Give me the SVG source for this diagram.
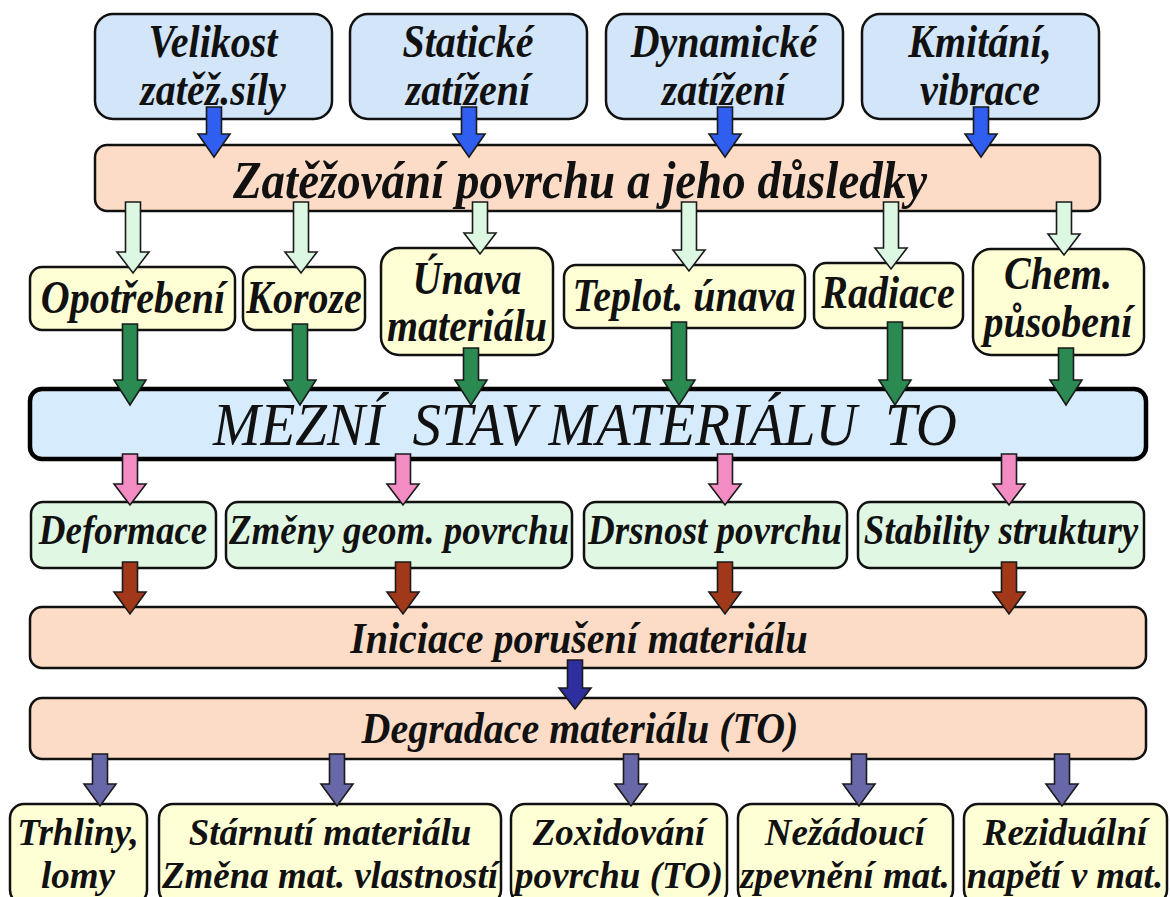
<svg xmlns="http://www.w3.org/2000/svg" width="1170" height="897" viewBox="0 0 1170 897">
  <style>
    .box { stroke: #111; stroke-width: 2.5; }
    .blue { fill: #d2e5f9; }
    .peach { fill: #fcdcc6; }
    .yellow { fill: #ffffd6; }
    .mint { fill: #e0f7e4; }
    .state { fill: #d6ecfc; stroke: #000; stroke-width: 4.5; }
    text { font-family: "Liberation Serif", "Times New Roman", serif; font-style: italic; font-weight: bold; text-anchor: middle; fill: #111; }
    .f40 { font-size: 40px; }
    .f37 { font-size: 37px; }
    .f47 { font-size: 47px; }
    .big { font-size: 57px; font-weight: normal; }
    .arr { stroke: #1a1a1a; stroke-width: 1.6; stroke-linejoin: miter; }
    .a-blue { fill: #2f5ef0; }
    .a-pale { fill: #dcf8e2; }
    .a-green { fill: #2b8a52; }
    .a-pink { fill: #f28cc2; }
    .a-brown { fill: #a2381a; }
    .a-navy { fill: #2e2e9e; }
    .a-slate { fill: #6868a8; }
  </style>

  <rect width="1170" height="897" fill="#ffffff"/>

  <!-- most labels are set in a slightly tall face: each line is stretched vertically about its baseline -->

  <!-- load sources -->
  <g id="velikost">
    <rect class="box blue" x="95" y="14" width="237" height="105" rx="18"/>
    <text class="f40" transform="translate(213,57) scale(1,1.15)">Velikost</text>
    <text class="f40" transform="translate(213,105) scale(1,1.15)">zatěž.síly</text>
  </g>
  <g id="staticke">
    <rect class="box blue" x="350" y="14" width="237" height="105" rx="18"/>
    <text class="f40" transform="translate(468,57) scale(1,1.15)">Statické</text>
    <text class="f40" transform="translate(468,105) scale(1,1.15)">zatížení</text>
  </g>
  <g id="dynamicke">
    <rect class="box blue" x="606" y="14" width="237" height="105" rx="18"/>
    <text class="f40" transform="translate(724,57) scale(1,1.15)">Dynamické</text>
    <text class="f40" transform="translate(724,105) scale(1,1.15)">zatížení</text>
  </g>
  <g id="kmitani">
    <rect class="box blue" x="862" y="14" width="237" height="105" rx="18"/>
    <text class="f40" transform="translate(980,57) scale(1,1.15)">Kmitání,</text>
    <text class="f40" transform="translate(980,105) scale(1,1.15)">vibrace</text>
  </g>

  <g id="zatezovani">
    <rect class="box peach" x="95" y="145" width="1005" height="66" rx="12"/>
    <text class="f47" transform="translate(580,198) scale(1,1.12)">Zatěžování povrchu a jeho důsledky</text>
  </g>

  <!-- damage mechanisms -->
  <g id="opotrebeni">
    <rect class="box yellow" x="30" y="267" width="205" height="63" rx="12"/>
    <text class="f40" transform="translate(133,313) scale(1,1.15)">Opotřebení</text>
  </g>
  <g id="koroze">
    <rect class="box yellow" x="243" y="267" width="122" height="63" rx="12"/>
    <text class="f40" transform="translate(304,313) scale(1,1.15)">Koroze</text>
  </g>
  <g id="unava">
    <rect class="box yellow" x="381" y="248" width="172" height="107" rx="18"/>
    <text class="f40" transform="translate(467,294) scale(1,1.15)">Únava</text>
    <text class="f40" transform="translate(467,341) scale(1,1.15)">materiálu</text>
  </g>
  <g id="teplot">
    <rect class="box yellow" x="564" y="265" width="241" height="63" rx="12"/>
    <text class="f40" transform="translate(684,311) scale(1,1.15)">Teplot. únava</text>
  </g>
  <g id="radiace">
    <rect class="box yellow" x="814" y="263" width="149" height="65" rx="12"/>
    <text class="f40" transform="translate(888,308) scale(1,1.15)">Radiace</text>
  </g>
  <g id="chem">
    <rect class="box yellow" x="973" y="249" width="171" height="106" rx="18"/>
    <text class="f40" transform="translate(1058,289) scale(1,1.15)">Chem.</text>
    <text class="f40" transform="translate(1058,337) scale(1,1.15)">působení</text>
  </g>

  <g id="mezni-stav">
    <rect class="state" x="30" y="389" width="1116" height="70" rx="12"/>
    <text class="big" transform="translate(585,445) scale(1,1.08)" xml:space="preserve">MEZNÍ  STAV MATERIÁLU  TO</text>
  </g>

  <!-- surface effects -->
  <g id="deformace">
    <rect class="box mint" x="31" y="502" width="185" height="66" rx="12"/>
    <text class="f37" transform="translate(123,544) scale(1,1.15)">Deformace</text>
  </g>
  <g id="zmeny">
    <rect class="box mint" x="226" y="502" width="346" height="66" rx="12"/>
    <text class="f37" transform="translate(399,544) scale(1,1.15)">Změny geom. povrchu</text>
  </g>
  <g id="drsnost">
    <rect class="box mint" x="584" y="502" width="263" height="66" rx="12"/>
    <text class="f37" transform="translate(715,544) scale(1,1.15)">Drsnost povrchu</text>
  </g>
  <g id="stability">
    <rect class="box mint" x="858" y="502" width="286" height="66" rx="12"/>
    <text class="f37" transform="translate(1001,544) scale(1,1.15)">Stability struktury</text>
  </g>

  <g id="iniciace">
    <rect class="box peach" x="30" y="607" width="1116" height="61" rx="12"/>
    <text class="f40" transform="translate(579,653) scale(1,1.12)">Iniciace porušení materiálu</text>
  </g>
  <g id="degradace">
    <rect class="box peach" x="30" y="698" width="1116" height="61" rx="12"/>
    <text class="f40" transform="translate(580,743) scale(1,1.12)">Degradace materiálu (TO)</text>
  </g>

  <!-- consequences (two tight lines, set without stretch) -->
  <g id="trhliny">
    <rect class="box yellow" x="10" y="804" width="137" height="100" rx="14"/>
    <text class="f37" x="78" y="845">Trhliny,</text>
    <text class="f37" x="78" y="888">lomy</text>
  </g>
  <g id="starnuti">
    <rect class="box yellow" x="159" y="804" width="342" height="100" rx="14"/>
    <text class="f37" x="330" y="845">Stárnutí materiálu</text>
    <text class="f37" x="330" y="888">Změna mat. vlastností</text>
  </g>
  <g id="zoxidovani">
    <rect class="box yellow" x="511" y="804" width="216" height="100" rx="14"/>
    <text class="f37" x="619" y="845">Zoxidování</text>
    <text class="f37" x="619" y="888">povrchu (TO)</text>
  </g>
  <g id="nezadouci">
    <rect class="box yellow" x="738" y="804" width="215" height="100" rx="14"/>
    <text class="f37" x="845" y="845">Nežádoucí</text>
    <text class="f37" x="845" y="888">zpevnění mat.</text>
  </g>
  <g id="rezidualni">
    <rect class="box yellow" x="964" y="804" width="203" height="100" rx="14"/>
    <text class="f37" x="1065" y="845">Reziduální</text>
    <text class="f37" x="1065" y="888">napětí v mat.</text>
  </g>

  <!-- block arrows: shaft 15 wide, head 32 wide, about 22 long -->
  <g id="connectors" class="arr">
    <g class="a-blue">
      <path d="M206.5,107 H221.5 V134 H230 L214,157 L198,134 H206.5 Z"/>
      <path d="M461.5,107 H476.5 V134 H485 L469,157 L453,134 H461.5 Z"/>
      <path d="M717.5,107 H732.5 V134 H741 L725,157 L709,134 H717.5 Z"/>
      <path d="M973.5,107 H988.5 V134 H997 L981,157 L965,134 H973.5 Z"/>
    </g>
    <g class="a-pale">
      <path d="M125.5,202 H140.5 V252 H149 L133,273 L117,252 H125.5 Z"/>
      <path d="M293.5,202 H308.5 V252 H317 L301,273 L285,252 H293.5 Z"/>
      <path d="M472.5,202 H487.5 V233 H496 L480,254 L464,233 H472.5 Z"/>
      <path d="M681.5,202 H696.5 V250 H705 L689,271 L673,250 H681.5 Z"/>
      <path d="M883.5,202 H898.5 V248 H907 L891,269 L875,248 H883.5 Z"/>
      <path d="M1056.5,202 H1071.5 V234 H1080 L1064,255 L1048,234 H1056.5 Z"/>
    </g>
    <g class="a-green">
      <path d="M122.5,324 H137.5 V380 H146 L130,405 L114,380 H122.5 Z"/>
      <path d="M292.5,324 H307.5 V380 H316 L300,405 L284,380 H292.5 Z"/>
      <path d="M463.5,348 H478.5 V380 H487 L471,405 L455,380 H463.5 Z"/>
      <path d="M671.5,322 H686.5 V380 H695 L679,405 L663,380 H671.5 Z"/>
      <path d="M887.5,322 H902.5 V380 H911 L895,405 L879,380 H887.5 Z"/>
      <path d="M1058.5,348 H1073.5 V380 H1082 L1066,405 L1050,380 H1058.5 Z"/>
    </g>
    <g class="a-pink">
      <path d="M122.5,454 H137.5 V484 H146 L130,505 L114,484 H122.5 Z"/>
      <path d="M395.5,454 H410.5 V484 H419 L403,505 L387,484 H395.5 Z"/>
      <path d="M717.5,454 H732.5 V484 H741 L725,505 L709,484 H717.5 Z"/>
      <path d="M1001.5,454 H1016.5 V484 H1025 L1009,505 L993,484 H1001.5 Z"/>
    </g>
    <g class="a-brown">
      <path d="M122.5,562 H137.5 V592 H146 L130,614 L114,592 H122.5 Z"/>
      <path d="M395.5,562 H410.5 V592 H419 L403,614 L387,592 H395.5 Z"/>
      <path d="M717.5,562 H732.5 V592 H741 L725,614 L709,592 H717.5 Z"/>
      <path d="M1001.5,562 H1016.5 V592 H1025 L1009,614 L993,592 H1001.5 Z"/>
    </g>
    <g class="a-navy">
      <path d="M567.5,660 H582.5 V688 H591 L575,709 L559,688 H567.5 Z"/>
    </g>
    <g class="a-slate">
      <path d="M92.5,754 H107.5 V784 H116 L100,806 L84,784 H92.5 Z"/>
      <path d="M329.5,754 H344.5 V784 H353 L337,806 L321,784 H329.5 Z"/>
      <path d="M623.5,754 H638.5 V784 H647 L631,806 L615,784 H623.5 Z"/>
      <path d="M851.5,754 H866.5 V784 H875 L859,806 L843,784 H851.5 Z"/>
      <path d="M1054.5,754 H1069.5 V784 H1078 L1062,806 L1046,784 H1054.5 Z"/>
    </g>
  </g>
</svg>
